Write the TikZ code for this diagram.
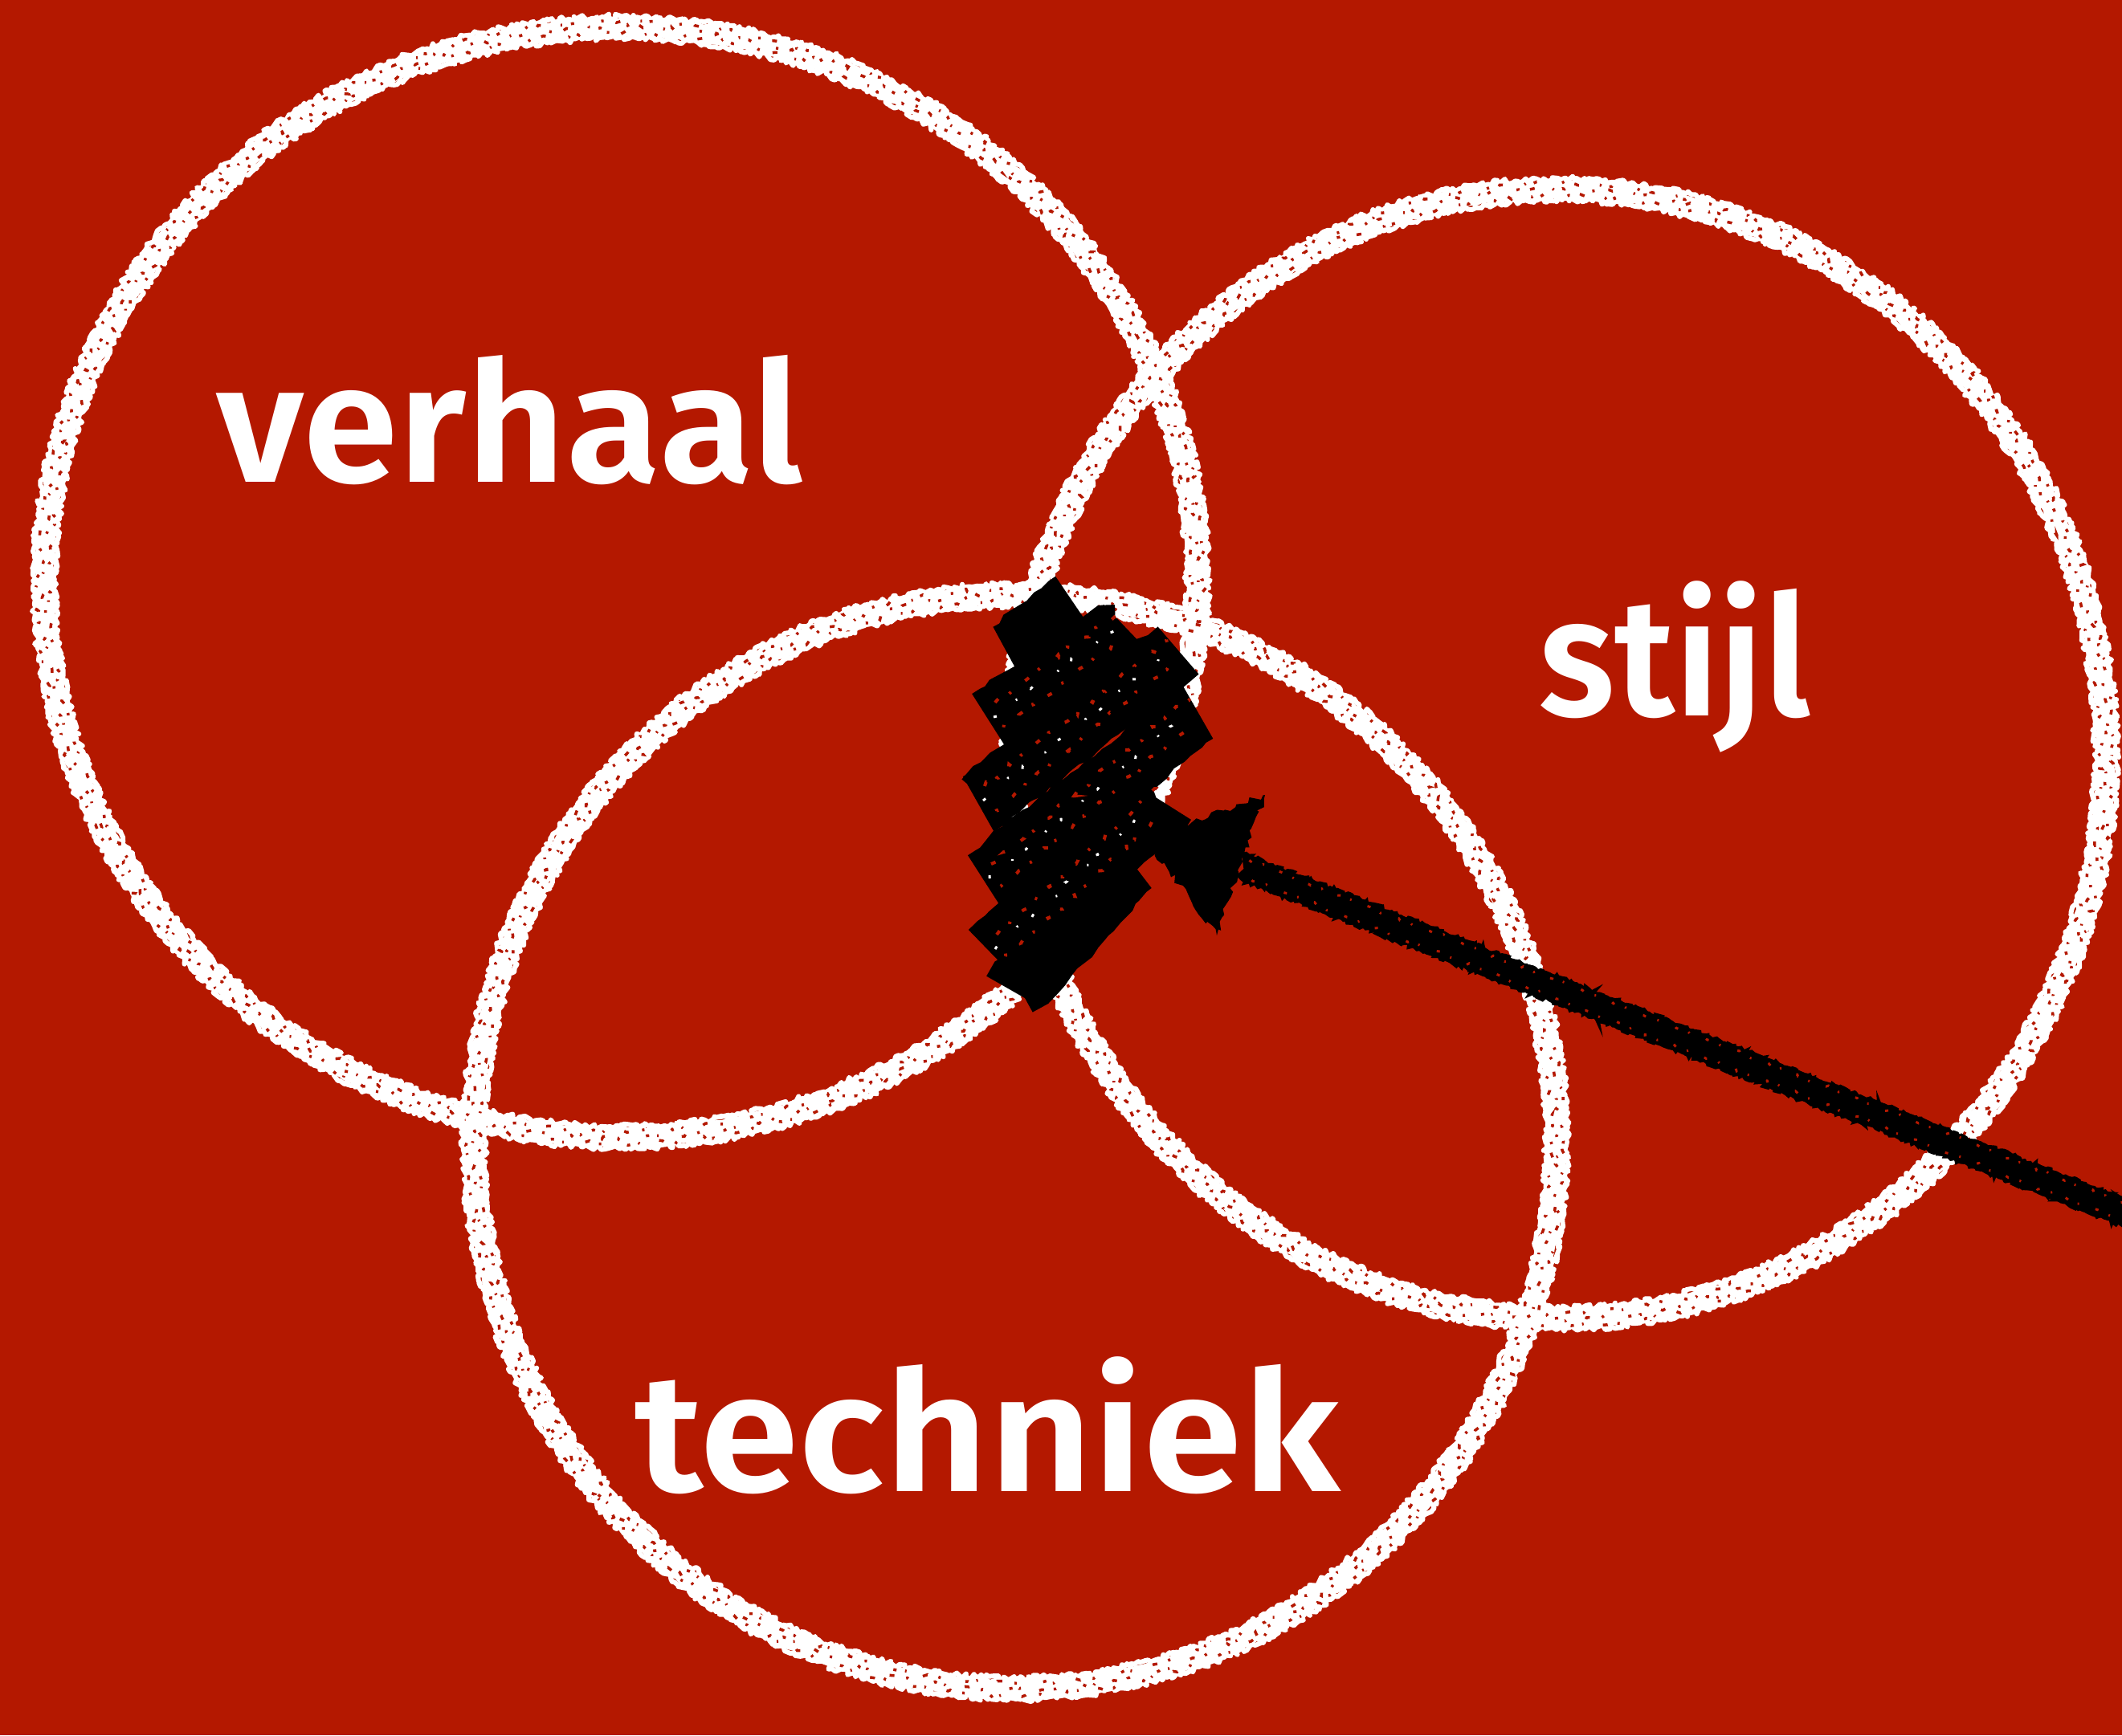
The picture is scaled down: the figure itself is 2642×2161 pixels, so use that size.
\documentclass[tikz,border=0pt]{standalone}
\usepackage{fontspec}
\setmainfont{Fira Sans}
\newfontfamily\lblfont{Fira Sans SemiBold}
\usetikzlibrary{decorations.pathmorphing}
\definecolor{bg}{HTML}{B41800}
\pgfmathsetseed{7}
\tikzset{
  ringcore/.style={white, line width=24pt, line join=round, decorate, decoration={random steps, segment length=6pt, amplitude=2pt}},
  ringedge/.style={white, line width=6pt, line join=round, decorate, decoration={random steps, segment length=3pt, amplitude=3.5pt}},
  ringspeck/.style={bg, line width=3.5pt, dash pattern=on 3pt off 17pt on 6pt off 29pt on 2pt off 11pt on 4pt off 37pt, decorate, decoration={random steps, segment length=4pt, amplitude=2.5pt}},
  lbl/.style={text=white, font=\fontsize{209pt}{250pt}\lblfont, inner sep=0pt, anchor=base west},
  scrib/.style={black, line width=78pt, line cap=butt, line join=miter, decorate, decoration={random steps, segment length=12pt, amplitude=3pt}},
  scribspeck/.style={bg, line width=4pt, dash pattern=on 6pt off 18pt on 3pt off 27pt, decorate, decoration={random steps, segment length=4pt, amplitude=3pt}},
  scribwhite/.style={white, line width=3pt, dash pattern=on 4pt off 41pt on 2pt off 23pt, decorate, decoration={random steps, segment length=4pt, amplitude=3pt}},
  shaft/.style={black, line width=32pt, line join=round, decorate, decoration={random steps, segment length=5pt, amplitude=2pt}},
  shaftedge/.style={black, line width=5pt, decorate, decoration={random steps, segment length=3pt, amplitude=2.5pt}},
  shaftspeck/.style={bg, line width=3pt, dash pattern=on 4pt off 23pt on 2pt off 15pt, decorate, decoration={random steps, segment length=4pt, amplitude=2pt}},
  head/.style={black, decorate, decoration={random steps, segment length=6pt, amplitude=4pt}},
}
\begin{document}
\begin{tikzpicture}[x=1pt,y=-1pt]
\useasboundingbox (0,0) rectangle (2642,2161);
\fill[bg] (0,0) rectangle (2642,2161);
\clip (0,0) rectangle (2642,2161);

% chalk circles
\foreach \cx/\cy/\rx/\ry in {773/725/718/691, 1942/939/680/703, 1264/1422/674/681}{
  \draw[ringcore] (\cx,\cy) ellipse [x radius=\rx, y radius=\ry];
  \draw[ringedge] (\cx,\cy) ellipse [x radius=\rx-13, y radius=\ry-13];
  \draw[ringedge] (\cx,\cy) ellipse [x radius=\rx+13, y radius=\ry+13];
  \draw[ringspeck] (\cx,\cy) ellipse [x radius=\rx-7, y radius=\ry-7];
  \draw[ringspeck, dash phase=31pt] (\cx,\cy) ellipse [x radius=\rx+1, y radius=\ry+1];
  \draw[ringspeck, dash phase=11pt] (\cx,\cy) ellipse [x radius=\rx+8, y radius=\ry+8];
}

% labels
\node[lbl] (verhaal) at (269,600) {\resizebox{731pt}{\height}{verhaal}};
\node[lbl] (stijl) at (1916,891) {\resizebox{338pt}{\height}{stijl}};
\node[lbl] (techniek) at (790,1857) {\resizebox{878pt}{\height}{techniek}};

% black scribble in the middle
\foreach \xa/\ya/\xb/\yb in {1255/815/1336/750, 1231/897/1401/781, 1218/1001/1467/810, 1226/1098/1491/886, 1233/1186/1450/1000, 1262/1235/1410/1075}{
  \draw[scrib] (\xa,\ya) -- (\xb,\yb);
}
\foreach \xa/\ya/\xb/\yb in {1231/897/1401/781, 1218/1001/1467/810, 1226/1098/1491/886, 1233/1186/1450/1000}{
  \draw[scribspeck] (\xa+8,\ya-22) -- (\xb-8,\yb-18);
  \draw[scribspeck, dash phase=9pt] (\xa+12,\ya+14) -- (\xb-12,\yb+20);
  \draw[scribwhite] (\xa+6,\ya-4) -- (\xb-10,\yb);
}

% arrow
\coordinate (tail) at (2720,1540);
\coordinate (shaftend) at (1548,1080);
\coordinate (tip) at (1425,1045);
\coordinate (wingA) at (1575,990);
\coordinate (wingB) at (1515,1165);
\draw[shaft] (tail) -- (shaftend);
\draw[shaftedge] ([yshift=-16pt]tail) -- ([yshift=-16pt]shaftend);
\draw[shaftedge] ([yshift=16pt]tail) -- ([yshift=16pt]shaftend);
\draw[shaftspeck] ([yshift=12pt]tail) -- ([yshift=12pt]shaftend);
\draw[shaftspeck, dash phase=7pt] ([yshift=-11pt]tail) -- ([yshift=-11pt]shaftend);
\fill[head] (tip) -- (wingA) -- (wingB) -- cycle;
\end{tikzpicture}
\end{document}
